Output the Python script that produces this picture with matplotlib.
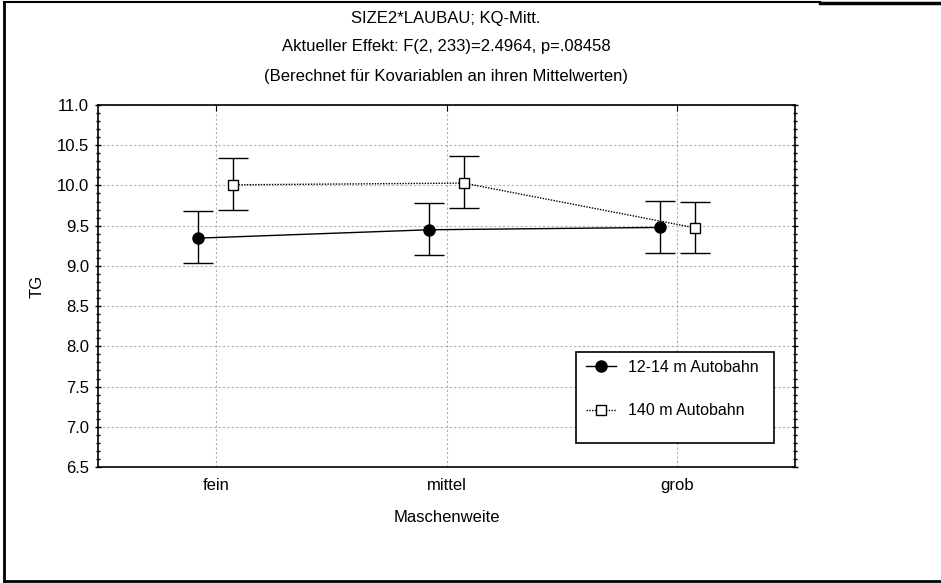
import numpy as np
import matplotlib
matplotlib.use('Agg')
import matplotlib.pyplot as plt
from matplotlib.lines import Line2D
from matplotlib.patches import Rectangle

categories = ["fein", "mittel", "grob"]
mean_a = [9.345, 9.449, 9.478]
lo_a = [9.03, 9.13, 9.163]
hi_a = [9.677, 9.776, 9.805]
mean_b = [10.008, 10.029, 9.474]
lo_b = [9.697, 9.714, 9.163]
hi_b = [10.336, 10.36, 9.80]
label_a = "12-14 m Autobahn"
label_b = "140 m Autobahn"
title = ["SIZE2*LAUBAU; KQ-Mitt.",
         "Aktueller Effekt: F(2, 233)=2.4964, p=.08458",
         "(Berechnet für Kovariablen an ihren Mittelwerten)"]

plt.rcParams['font.family'] = ['Liberation Sans', 'DejaVu Sans']
plt.rcParams['font.size'] = 12

W, H = 941, 583
fig = plt.figure(figsize=(W/100, H/100), dpi=100)
ax = fig.add_axes([98/W, 1-467/H, (795-98)/W, (467-105)/H])

x = np.arange(len(categories))
off = 0.075
ea = [np.array(mean_a) - np.array(lo_a), np.array(hi_a) - np.array(mean_a)]
eb = [np.array(mean_b) - np.array(lo_b), np.array(hi_b) - np.array(mean_b)]
ax.errorbar(x - off, mean_a, yerr=ea, color='black', lw=1, marker='o', ms=8,
            capsize=11, elinewidth=1, capthick=1, zorder=3)
ax.errorbar(x + off, mean_b, yerr=eb, color='black', lw=1, ls=(0, (1, 1)), marker='s', ms=7,
            mfc='white', mew=1, capsize=11, elinewidth=1, capthick=1, zorder=3)

ax.set_xlim(-0.51, 2.51)
ax.set_ylim(6.5, 11.0)
ax.set_xticks(x)
ax.set_xticklabels(categories)
ax.set_yticks(np.arange(6.5, 11.01, 0.5))
ax.set_yticklabels(["%.1f" % v for v in np.arange(6.5, 11.01, 0.5)])
ax.set_yticks(np.arange(6.5, 11.01, 0.1), minor=True)
ax.grid(True, which='major', color='#b0b0b0', ls=(0, (2, 2)), lw=0.8)
ax.tick_params(axis='y', which='major', direction='inout', length=5, right=True, width=1, pad=4)
ax.tick_params(axis='y', which='minor', direction='inout', length=3, right=True, width=1)
ax.tick_params(axis='x', which='major', direction='in', length=4, top=True, bottom=False, pad=8)
for s in ax.spines.values():
    s.set_linewidth(1.2)
ax.set_xlabel("Maschenweite", labelpad=12)
ax.set_ylabel("TG", labelpad=9)

for i, t in enumerate(title):
    fig.text(446/W, 1 - (18 + 29*i)/H, t, ha='center', va='center')

# legend box (taller than its two entries, as in the original)
box = Rectangle((576/W, 1-443/H), (774-576)/W, (443-352)/H, transform=fig.transFigure,
                facecolor='white', edgecolor='black', lw=1.2, zorder=4)
fig.add_artist(box)
h_a = Line2D([], [], color='black', lw=1, marker='o', ms=8)
h_b = Line2D([], [], color='black', lw=1, ls=(0, (1, 1)), marker='s', ms=7, mfc='white')
leg = fig.legend([h_a, h_b], [label_a, label_b], loc='upper left',
                 bbox_to_anchor=(576/W, 1-350/H), bbox_transform=fig.transFigure,
                 frameon=False, fontsize=11.5, borderaxespad=0,
                 labelspacing=1.8, handlelength=1.9, handletextpad=0.75, borderpad=0.6)
leg.set_zorder(5)

# outer frame
fig.add_artist(Line2D([4/W, 4/W], [1-2/H, 1-581/H], transform=fig.transFigure, color='black', lw=2))
fig.add_artist(Line2D([4/W, 940/W], [1-581/H, 1-581/H], transform=fig.transFigure, color='black', lw=2))
fig.add_artist(Line2D([4/W, 820/W], [1-2/H, 1-2/H], transform=fig.transFigure, color='black', lw=1.5))
fig.add_artist(Line2D([820/W, 1], [1-3/H, 1-3/H], transform=fig.transFigure, color='black', lw=2.5))

plt.savefig("out.png", dpi=100)
